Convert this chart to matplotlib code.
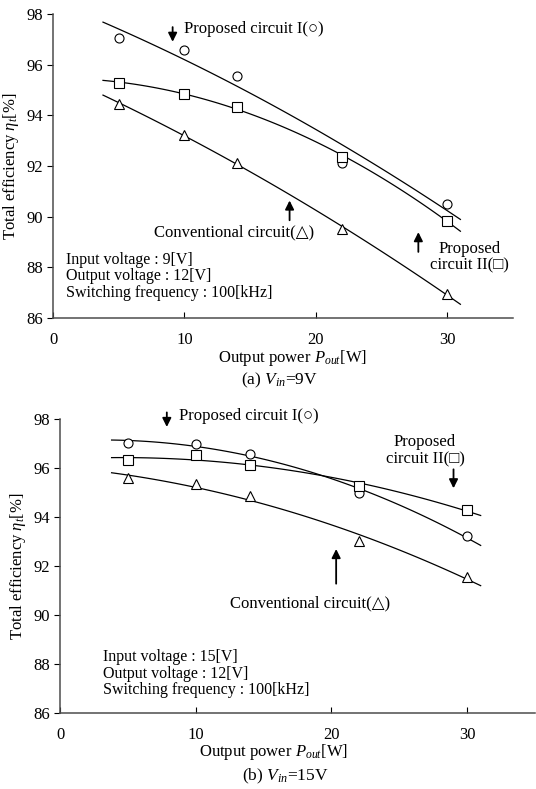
import numpy as np
import matplotlib
matplotlib.use('Agg')
import matplotlib.pyplot as plt

plt.rcParams['font.family'] = ['Liberation Serif', 'DejaVu Sans']
plt.rcParams['mathtext.fontset'] = 'custom'
plt.rcParams['mathtext.rm'] = 'Liberation Serif'
plt.rcParams['mathtext.it'] = 'Liberation Serif:italic'

# potencia de saida (W)
pout = [5, 10, 14, 22, 30]

# (a) Vin = 9 V
a_prop1 = [97.07, 96.6, 95.55, 92.13, 90.5]
a_prop2 = [95.3, 94.83, 94.34, 92.34, 89.84]
a_conv = [94.47, 93.22, 92.13, 89.53, 86.93]

# (b) Vin = 15 V
b_prop1 = [97.03, 96.97, 96.57, 94.99, 93.2]
b_prop2 = [96.3, 96.52, 96.11, 95.24, 94.29]
b_conv = [95.58, 95.33, 94.83, 93.02, 91.55]

yticks = [86, 88, 90, 92, 94, 96, 98]
xticks = [0, 10, 20, 30]


def painel(ax, dados, xlab_pos):
	xs = np.linspace(3.8, 31, 100)
	for ys, mk in dados:
		c = np.polyfit(pout, ys, 2)
		ax.plot(xs, np.polyval(c, xs), color='black', lw=0.9)
		ax.plot(pout, ys, mk, ms=6.5, mfc='white', mec='black', mew=0.8, ls='none')
	ax.set_xlim(0, 35)
	ax.set_ylim(86, 98)
	ax.set_xticks(xticks)
	ax.set_yticks(yticks)
	ax.tick_params(axis='x', direction='in', length=4, labelsize=12, pad=10)
	ax.tick_params(axis='y', direction='out', length=4, labelsize=12, pad=3)
	for s in ['top', 'right']:
		ax.spines[s].set_visible(False)
	for s in ['left', 'bottom']:
		ax.spines[s].set_color('0.3')
		ax.spines[s].set_linewidth(1.1)
	ax.set_ylabel(r'Total efficiency $\eta_t$[%]', fontsize=12, labelpad=4)
	ax.set_xlabel(r'Output power $P_{out}$[W]', fontsize=12, labelpad=3)
	ax.xaxis.set_label_coords(xlab_pos, -0.1)


def seta(ax, x, y0, y1):
	ax.annotate('', xy=(x, y1), xytext=(x, y0),
		arrowprops=dict(arrowstyle='-|>', color='black', lw=1.3, mutation_scale=13))


fig = plt.figure(figsize=(5.36, 7.89), dpi=100)

# ---- (a)
ax1 = fig.add_axes([0.099, 0.597, 0.858, 0.385])
painel(ax1, [(a_prop1, 'o'), (a_prop2, 's'), (a_conv, '^')], 0.52)
seta(ax1, 9.1, 97.6, 96.8)
ax1.text(10.0, 97.4, 'Proposed circuit I(○)', fontsize=12, va='center')
seta(ax1, 18.0, 89.75, 90.75)
ax1.text(19.9, 89.4, 'Conventional circuit(△)', fontsize=12, va='center', ha='right')
seta(ax1, 27.8, 88.5, 89.5)
ax1.text(31.7, 88.4, 'Proposed\ncircuit II(□)', fontsize=12, va='center', ha='center', linespacing=1.1)
ax1.text(1.0, 87.65, 'Input voltage : 9[V]\nOutput voltage : 12[V]\nSwitching frequency : 100[kHz]',
	fontsize=11.5, va='center', linespacing=1.05)
fig.text(0.522, 0.518, r'(a) $V_{in}$=9V', fontsize=12.5, ha='center', va='center')

# ---- (b)
ax2 = fig.add_axes([0.112, 0.0963, 0.886, 0.373])
painel(ax2, [(b_prop1, 'o'), (b_prop2, 's'), (b_conv, '^')], 0.45)
seta(ax2, 7.87, 98.37, 97.55)
ax2.text(8.8, 98.1, 'Proposed circuit I(○)', fontsize=12, va='center')
seta(ax2, 29.0, 96.05, 95.05)
ax2.text(26.9, 96.7, 'Proposed\ncircuit II(□)', fontsize=12, va='center', ha='center', linespacing=1.1)
seta(ax2, 20.35, 91.16, 92.8)
ax2.text(18.4, 90.48, 'Conventional circuit(△)', fontsize=12, va='center', ha='center')
ax2.text(3.2, 87.6, 'Input voltage : 15[V]\nOutput voltage : 12[V]\nSwitching frequency : 100[kHz]',
	fontsize=11.5, va='center', linespacing=1.05)
fig.text(0.532, 0.016, r'(b) $V_{in}$=15V', fontsize=12.5, ha='center', va='center')

fig.savefig('out.png', dpi=100)
